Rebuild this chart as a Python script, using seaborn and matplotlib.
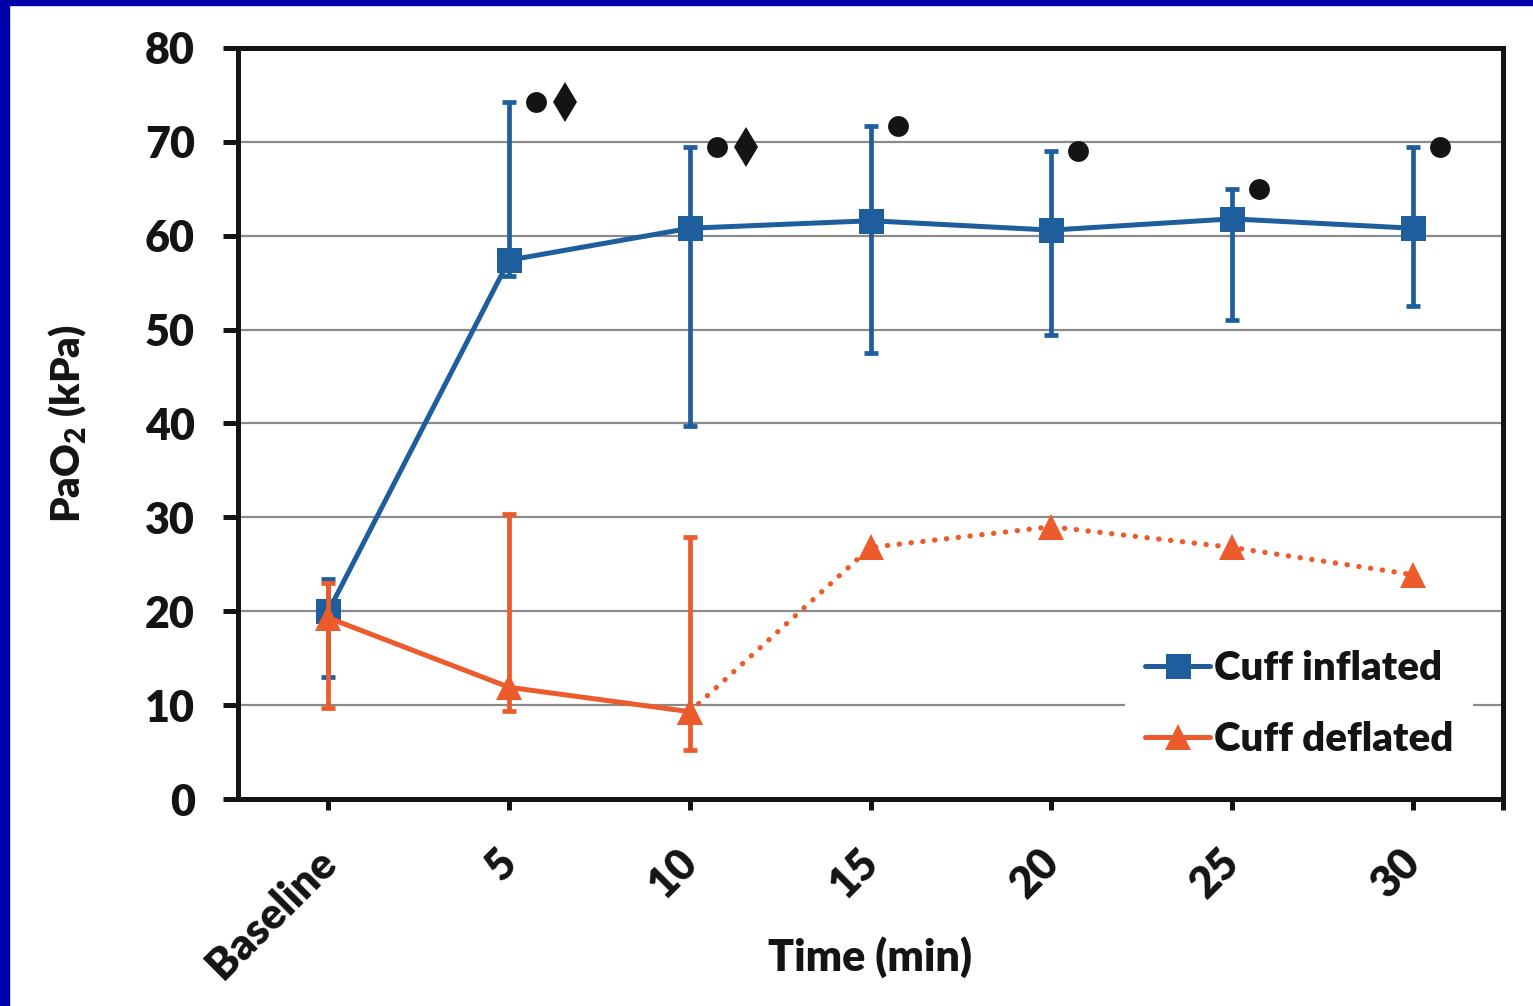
import numpy as np
import pandas as pd
import matplotlib
matplotlib.use('Agg')
import matplotlib.pyplot as plt
import matplotlib.transforms as mtransforms
import seaborn as sns
from matplotlib.patches import Rectangle
from matplotlib.lines import Line2D

# ---------------- data ----------------
time_labels = ['Baseline', '5', '10', '15', '20', '25', '30']
inflated_mean = [20.0, 57.4, 60.8, 61.6, 60.6, 61.8, 60.8]
inflated_upper = [23.4, 74.2, 69.5, 71.7, 69.0, 65.0, 69.5]
inflated_lower = [13.0, 55.7, 39.7, 47.5, 49.4, 51.0, 52.5]
deflated_mean = [19.3, 11.9, 9.3, 26.8, 29.0, 26.8, 23.9]
deflated_upper = [23.0, 30.4, 27.9]
deflated_lower = [9.7, 9.4, 5.2]
sig_circle_y = [np.nan, 74.2, 69.5, 71.7, 69.0, 65.0, 69.5]
sig_diamond_y = [np.nan, 74.2, 69.5, np.nan, np.nan, np.nan, np.nan]
y_ticks = [0, 10, 20, 30, 40, 50, 60, 70, 80]

BLUE = '#1F5E9C'
ORANGE = '#EB5B2B'
BLACK = '#141414'
W = 'heavy'

sns.set_theme(style='white')
plt.rcParams['font.family'] = ['Lato', 'DejaVu Sans']
plt.rcParams['font.weight'] = W
plt.rcParams['mathtext.fontset'] = 'custom'
plt.rcParams['mathtext.rm'] = 'Lato:heavy'
plt.rcParams['mathtext.bf'] = 'Lato:heavy'

fig = plt.figure(figsize=(15.33, 10.06), dpi=100, facecolor='white')
ax = fig.add_axes([238 / 1533, 1 - 799 / 1006, (1503 - 238) / 1533, (799 - 48) / 1006])
ax.set_facecolor('white')

n = len(time_labels)
idx = np.arange(n)
df_inf = pd.DataFrame({'x': idx, 'y': inflated_mean})
df_def = pd.DataFrame({'x': idx, 'y': deflated_mean})
split = len(deflated_upper) - 1

# inflated series
m = np.array(inflated_mean)
ax.errorbar(idx, m, yerr=[m - np.array(inflated_lower), np.array(inflated_upper) - m],
            fmt='none', ecolor=BLUE, elinewidth=3.4, capsize=5, capthick=3.4, zorder=3)
sns.lineplot(data=df_inf, x='x', y='y', ax=ax, color=BLUE, lw=3.6, marker='s',
             markersize=18, markeredgewidth=0, sort=False, errorbar=None, zorder=4)

# deflated series
dm = np.array(deflated_mean[:len(deflated_upper)])
ax.errorbar(idx[:len(deflated_upper)], dm,
            yerr=[dm - np.array(deflated_lower), np.array(deflated_upper) - dm],
            fmt='none', ecolor=ORANGE, elinewidth=3.4, capsize=5, capthick=3.4, zorder=5)
sns.lineplot(data=df_def.iloc[:split + 1], x='x', y='y', ax=ax, color=ORANGE, lw=3.6,
             marker='^', markersize=19, markeredgewidth=0, sort=False, errorbar=None, zorder=6)
sns.lineplot(data=df_def.iloc[split:], x='x', y='y', ax=ax, color=ORANGE, lw=3.8,
             marker='^', markersize=19, markeredgewidth=0, sort=False, errorbar=None,
             dashes=False, zorder=6)
ax.lines[-1].set_linestyle((0, (0.05, 2.2)))
ax.lines[-1].set_dash_capstyle('round')

# significance symbols
ax.plot(idx + 0.15, sig_circle_y, 'o', color=BLACK, ms=15, mew=0, zorder=7)
ax.plot(idx + 0.31, sig_diamond_y, 'd', color=BLACK, ms=20, mew=0, zorder=7)

# axes styling
ax.set_xlim(-0.5, n - 0.5)
ax.set_ylim(0, 80)
ax.set_yticks(y_ticks)
ax.set_xticks(idx)
ax.set_xticks([n - 0.5], minor=True)
ax.yaxis.grid(True, color='#8a8a8a', lw=1.6)
ax.xaxis.grid(False)
ax.set_axisbelow(True)
for s in ax.spines.values():
    s.set_visible(True)
    s.set_color(BLACK)
    s.set_linewidth(3.6)
ax.tick_params(axis='y', direction='out', length=11, width=3.6, pad=20, color=BLACK, left=True)
ax.tick_params(axis='x', which='both', direction='out', length=8, width=3.6, pad=14,
               color=BLACK, bottom=True)
ax.set_xticklabels(time_labels, rotation=45, ha='right', rotation_mode='anchor',
                   fontsize=31, fontweight=W, color=BLACK)
ax.set_yticklabels([str(v) for v in y_ticks], fontsize=31, fontweight=W, color=BLACK)
offset = mtransforms.ScaledTranslation(-0.13, -0.12, fig.dpi_scale_trans)
for lab in ax.get_xticklabels():
    lab.set_transform(lab.get_transform() + offset)

ax.set_xlabel('Time (min)', fontsize=31, fontweight=W, color=BLACK)
ax.set_ylabel(r'PaO$_{2}$ (kPa)', fontsize=29, fontweight=W, color=BLACK)
ax.xaxis.set_label_coords(0.5, -0.183)
ax.yaxis.set_label_coords(-0.118, 0.5)

handles = [Line2D([], [], color=BLUE, lw=3.6, marker='s', ms=18, mew=0),
           Line2D([], [], color=ORANGE, lw=3.6, marker='^', ms=19, mew=0)]
leg = ax.legend(handles, ['Cuff inflated', 'Cuff deflated'], loc='center',
                bbox_to_anchor=(0.839, 0.126), frameon=True, facecolor='white',
                edgecolor='none', framealpha=1, fancybox=False, fontsize=29,
                handlelength=1.6, handletextpad=0.1, labelspacing=0.85, borderpad=0.5)
for t in leg.get_texts():
    t.set_fontweight(W)
    t.set_color(BLACK)

# blue border
fig.patches.append(Rectangle((0, 0), 9 / 1533, 1, transform=fig.transFigure,
                             color='#0000AA', zorder=10))
fig.patches.append(Rectangle((0, 1 - 5 / 1006), 1, 5 / 1006, transform=fig.transFigure,
                             color='#0000AA', zorder=10))

fig.savefig('out.png', dpi=100, facecolor='white')
